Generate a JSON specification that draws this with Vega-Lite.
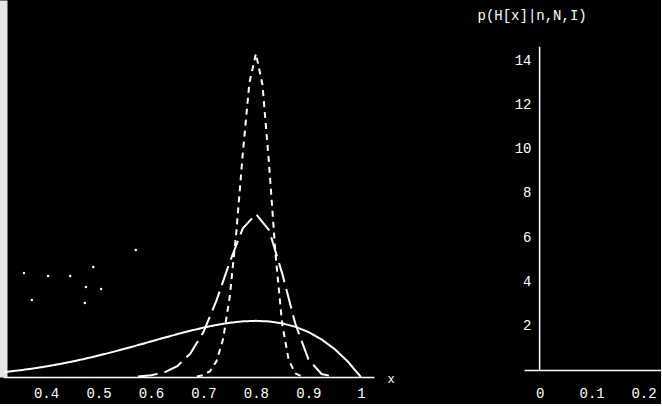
{
  "$schema": "https://vega.github.io/schema/vega-lite/v6.json",
  "autosize": {"type": "pad"},
  "padding": {"left": 0, "top": 0, "right": 0, "bottom": 4},
  "background": "black",
  "bounds": "flush",
  "spacing": 150,
  "config": {
    "view": {"stroke": null},
    "axis": {"labelFont": "Liberation Mono", "labelColor": "white", "labelFontSize": 14, "titleFont": "Liberation Mono", "titleColor": "white", "grid": false}
  },
  "datasets": {
    "curves": [
      {"s": "n5", "x": 0.32, "y": 0.214}, {"s": "n5", "x": 0.35, "y": 0.293}, {"s": "n5", "x": 0.375, "y": 0.371}, {"s": "n5", "x": 0.4, "y": 0.461},
      {"s": "n5", "x": 0.425, "y": 0.563}, {"s": "n5", "x": 0.45, "y": 0.677}, {"s": "n5", "x": 0.475, "y": 0.802}, {"s": "n5", "x": 0.5, "y": 0.938},
      {"s": "n5", "x": 0.525, "y": 1.083}, {"s": "n5", "x": 0.55, "y": 1.235}, {"s": "n5", "x": 0.575, "y": 1.394}, {"s": "n5", "x": 0.6, "y": 1.555},
      {"s": "n5", "x": 0.625, "y": 1.717}, {"s": "n5", "x": 0.65, "y": 1.874}, {"s": "n5", "x": 0.675, "y": 2.024}, {"s": "n5", "x": 0.7, "y": 2.161},
      {"s": "n5", "x": 0.725, "y": 2.279}, {"s": "n5", "x": 0.75, "y": 2.373}, {"s": "n5", "x": 0.775, "y": 2.435}, {"s": "n5", "x": 0.8, "y": 2.458},
      {"s": "n5", "x": 0.825, "y": 2.432}, {"s": "n5", "x": 0.85, "y": 2.349}, {"s": "n5", "x": 0.875, "y": 2.198}, {"s": "n5", "x": 0.9, "y": 1.968},
      {"s": "n5", "x": 0.925, "y": 1.647}, {"s": "n5", "x": 0.95, "y": 1.222}, {"s": "n5", "x": 0.975, "y": 0.678}, {"s": "n5", "x": 1.0, "y": 0.0},
      {"s": "n50", "x": 0.575, "y": 0.025}, {"s": "n50", "x": 0.6, "y": 0.073}, {"s": "n50", "x": 0.625, "y": 0.197}, {"s": "n50", "x": 0.65, "y": 0.474},
      {"s": "n50", "x": 0.675, "y": 1.024}, {"s": "n50", "x": 0.7, "y": 1.969}, {"s": "n50", "x": 0.725, "y": 3.357}, {"s": "n50", "x": 0.75, "y": 5.024},
      {"s": "n50", "x": 0.775, "y": 6.503}, {"s": "n50", "x": 0.8, "y": 7.13}, {"s": "n50", "x": 0.825, "y": 6.425}, {"s": "n50", "x": 0.85, "y": 4.537},
      {"s": "n50", "x": 0.875, "y": 2.336}, {"s": "n50", "x": 0.9, "y": 0.774}, {"s": "n50", "x": 0.925, "y": 0.13}, {"s": "n50", "x": 0.95, "y": 0.007},
      {"s": "n200", "x": 0.6875, "y": 0.024}, {"s": "n200", "x": 0.7, "y": 0.082}, {"s": "n200", "x": 0.7125, "y": 0.255}, {"s": "n200", "x": 0.725, "y": 0.696},
      {"s": "n200", "x": 0.7375, "y": 1.669}, {"s": "n200", "x": 0.75, "y": 3.49}, {"s": "n200", "x": 0.7625, "y": 6.314}, {"s": "n200", "x": 0.775, "y": 9.785},
      {"s": "n200", "x": 0.7875, "y": 12.87}, {"s": "n200", "x": 0.8, "y": 14.15}, {"s": "n200", "x": 0.8125, "y": 12.79}, {"s": "n200", "x": 0.825, "y": 9.325},
      {"s": "n200", "x": 0.8375, "y": 5.332}, {"s": "n200", "x": 0.85, "y": 2.322}, {"s": "n200", "x": 0.8625, "y": 0.739}, {"s": "n200", "x": 0.875, "y": 0.163},
      {"s": "n200", "x": 0.8875, "y": 0.023}
    ],
    "dots": [
      {"x": 0.358, "y": 4.55}, {"x": 0.404, "y": 4.42}, {"x": 0.446, "y": 4.42}, {"x": 0.49, "y": 4.81}, {"x": 0.476, "y": 3.94},
      {"x": 0.505, "y": 3.85}, {"x": 0.373, "y": 3.37}, {"x": 0.474, "y": 3.24}, {"x": 0.571, "y": 5.56}
    ],
    "axisline": [{"x": 0, "y": 0, "y2": 14.6}]
  },
  "hconcat": [
    {
      "width": 371,
      "height": 377,
      "encoding": {
        "x": {"field": "x", "type": "quantitative", "scale": {"domain": [0.318, 1.025], "nice": false, "zero": false},
          "axis": {"values": [0.4, 0.5, 0.6, 0.7, 0.8, 0.9, 1], "format": "~g", "domainColor": "white", "domainWidth": 1.5, "ticks": false, "tickSize": 0, "labelPadding": 9,
            "title": "x", "titleAngle": 0, "titleX": 384, "titleY": 1, "titleAlign": "left", "titleBaseline": "middle", "titleFontSize": 12, "titleFontWeight": "normal"}},
        "y": {"field": "y", "type": "quantitative", "scale": {"domain": [0, 16.5], "nice": false},
          "axis": {"labels": false, "ticks": false, "title": null, "domainColor": "#e6e6e6", "domainWidth": 8}}
      },
      "layer": [
        {
          "data": {"name": "curves"},
          "mark": {"type": "line", "color": "white", "strokeWidth": 2},
          "encoding": {
            "strokeDash": {"field": "s", "type": "nominal", "scale": {"domain": ["n5", "n50", "n200"], "range": [[1, 0], [20, 7], [6, 5]]}, "legend": null}
          }
        },
        {
          "data": {"name": "dots"},
          "mark": {"type": "point", "filled": true, "color": "white", "size": 6, "opacity": 1}
        }
      ]
    },
    {
      "width": 137,
      "height": 370,
      "data": {"name": "axisline"},
      "mark": {"type": "rule", "color": "white", "strokeWidth": 1.5},
      "encoding": {
        "x": {"field": "x", "type": "quantitative", "scale": {"domain": [-0.03, 0.2335], "nice": false, "zero": false},
          "axis": {"values": [0, 0.1, 0.2], "format": "~g", "domainColor": "white", "domainWidth": 1.5, "ticks": false, "tickSize": 0, "labelPadding": 16, "title": null}},
        "y": {"field": "y", "type": "quantitative", "scale": {"domain": [0, 16.71], "nice": false},
          "axis": {"values": [2, 4, 6, 8, 10, 12, 14], "domain": false, "ticks": false, "tickSize": 0, "offset": -16, "labelPadding": 9,
            "title": "p(H[x]|n,N,I)", "titleAngle": 0, "titleX": -63, "titleY": 15, "titleAlign": "left", "titleBaseline": "middle", "titleFontSize": 14, "titleFontWeight": "normal"}},
        "y2": {"field": "y2"}
      }
    }
  ]
}
